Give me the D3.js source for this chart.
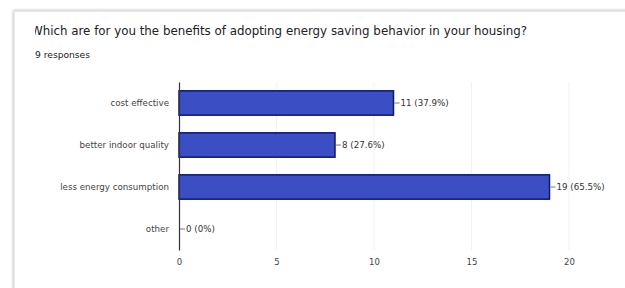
<!DOCTYPE html>
<html>
<head>
<meta charset="utf-8">
<script src="https://cdn.jsdelivr.net/npm/d3@7"></script>
<style>
  body { margin: 0; background: #fff; }
  svg { display: block; font-family: "DejaVu Sans", sans-serif; }
</style>
</head>
<body>
<svg id="chart"></svg>
<script>
const categories = ['cost effective', 'better indoor quality', 'less energy consumption', 'other'];
const counts = [11, 8, 19, 0];
const percents = ['37.9%', '27.6%', '65.5%', '0%'];
const xTicks = [0, 5, 10, 15, 20];

const width = 625, height = 288;
let svg = d3.select('#chart').attr('width', width).attr('height', height);

// card with a soft shadow
let defs = svg.append('defs');
let f = defs.append('filter').attr('id', 'sh').attr('x', -0.05).attr('y', -0.05).attr('width', 1.2).attr('height', 1.2);
f.append('feDropShadow').attr('dx', 0).attr('dy', 0).attr('stdDeviation', 1.5).attr('flood-color', '#000').attr('flood-opacity', 0.35);
defs.append('clipPath').attr('id', 'tclip').append('rect').attr('x', 35).attr('y', 0).attr('width', 600).attr('height', 60);

svg.append('rect')
    .attr('x', 14).attr('y', 11)
    .attr('width', 640).attr('height', 300)
    .attr('fill', '#fff')
    .attr('stroke', '#d6d6d6')
    .attr('filter', 'url(#sh)');

svg.append('text')
    .attr('clip-path', 'url(#tclip)')
    .attr('x', 31).attr('y', 35)
    .attr('fill', '#202124')
    .attr('textLength', 496)
    .attr('lengthAdjust', 'spacingAndGlyphs')
    .style('font-size', '11.5px')
    .text('Which are for you the benefits of adopting energy saving behavior in your housing?');

svg.append('text')
    .attr('x', 35).attr('y', 58)
    .attr('fill', '#202124')
    .attr('textLength', 55)
    .attr('lengthAdjust', 'spacingAndGlyphs')
    .style('font-size', '8px')
    .text('9 responses');

let xScale = d3.scaleLinear().domain([0, 20]).range([179, 569]);
let yScale = d3.scaleBand().domain(categories).range([82, 250])
    .paddingInner(0.42).paddingOuter(0.21);

// faint grid
svg.append('g').selectAll('line')
    .data(xTicks.slice(1))
    .enter().append('line')
    .attr('x1', d => xScale(d)).attr('x2', d => xScale(d))
    .attr('y1', 82).attr('y2', 250)
    .attr('stroke', '#f2f2f2');

svg.append('g').selectAll('rect')
    .data(counts)
    .enter().append('rect')
    .attr('x', xScale(0))
    .attr('y', (d, i) => yScale(categories[i]))
    .attr('width', d => xScale(d) - xScale(0))
    .attr('height', yScale.bandwidth())
    .attr('fill', '#3b4ec4')
    .attr('stroke', '#0b1870')
    .attr('stroke-width', 1.5)
    .style('display', d => d === 0 ? 'none' : null);

// value labels with leader
let lab = svg.append('g').selectAll('g')
    .data(counts)
    .enter().append('g')
    .attr('transform', (d, i) => `translate(${xScale(d) + 1}, ${yScale(categories[i]) + yScale.bandwidth() / 2})`);
lab.append('line').attr('x1', 0).attr('x2', 5).attr('stroke', '#555').attr('stroke-width', 0.8);
lab.append('text')
    .attr('x', 6).attr('dy', '0.35em')
    .attr('fill', '#333')
    .style('font-size', '8.7px')
    .text((d, i) => `${d} (${percents[i]})`);

// y axis
let yAxis = d3.axisLeft(yScale).tickSize(0).tickPadding(10);
let yg = svg.append('g').attr('transform', `translate(${xScale(0)},0)`).call(yAxis);
yg.select('.domain').attr('stroke', '#333').attr('stroke-width', 1.2);
yg.selectAll('text').attr('fill', '#444').style('font-size', '8.7px').style('font-family', '"DejaVu Sans", sans-serif');

// x axis labels
let xAxis = d3.axisBottom(xScale).tickValues(xTicks).tickSize(0).tickPadding(9);
let xg = svg.append('g').attr('transform', `translate(0, 250)`).call(xAxis);
xg.select('.domain').remove();
xg.selectAll('text').attr('fill', '#444').style('font-size', '8.5px').style('font-family', '"DejaVu Sans", sans-serif');
</script>
</body>
</html>
